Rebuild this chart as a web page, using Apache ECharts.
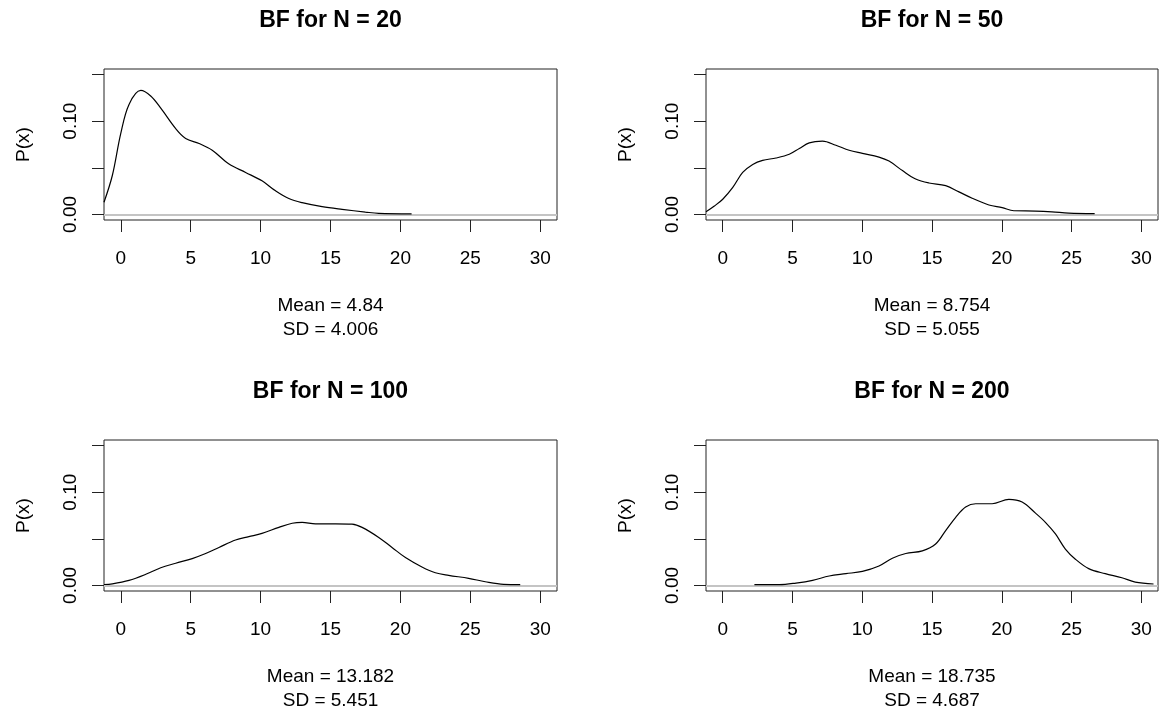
<!DOCTYPE html>
<html>
<head>
<meta charset="utf-8">
<title>BF for N</title>
<script src="https://cdn.jsdelivr.net/npm/echarts@6/dist/echarts.min.js"></script>
<style>
  html, body { margin: 0; padding: 0; background: #fff; }
  #chart { width: 1162px; height: 713px; }
</style>
</head>
<body>
<div id="chart"></div>
<script>
// panel labels + summary stats
const sampleSizes = [20, 50, 100, 200];
const means = ['4.84', '8.754', '13.182', '18.735'];
const sds = ['4.006', '5.055', '5.451', '4.687'];

// axis ticks
const xTicks = [0, 5, 10, 15, 20, 25, 30];
const yTicks = [0, 0.05, 0.1, 0.15];
const yTickLabels = [0, 0.1];

// density curves
const n20X = [-1.2, -0.6, 0, 0.59, 1.43, 2.14, 2.86, 3.93, 4.64, 5.6, 6.54, 7.74, 8.93, 10.1, 11.07, 12.02, 12.97, 14.4, 15.83, 17.5, 18.45, 20.8];
const n20Y = [0.013, 0.042, 0.087, 0.118, 0.133, 0.127, 0.114, 0.092, 0.0815, 0.076, 0.0688, 0.054, 0.045, 0.036, 0.0253, 0.017, 0.0126, 0.0083, 0.0054, 0.0025, 0.0011, 0.0006];

const n50X = [-1.2, -0.6, 0, 0.72, 1.43, 2.15, 2.86, 3.82, 4.77, 5.49, 6.2, 7.15, 8.11, 9.06, 10.01, 11.2, 11.92, 12.88, 13.83, 14.78, 15.98, 16.93, 17.88, 19.08, 20.03, 20.87, 22.42, 23.6, 24.8, 26.66];
const n50Y = [0.0028, 0.009, 0.0163, 0.029, 0.045, 0.0536, 0.058, 0.0605, 0.0645, 0.0707, 0.0768, 0.0786, 0.0742, 0.0688, 0.0655, 0.0615, 0.0572, 0.047, 0.038, 0.0337, 0.0308, 0.0242, 0.0174, 0.0101, 0.0072, 0.0039, 0.0036, 0.0028, 0.0014, 0.0008];

const n100X = [-1.2, -0.6, 0.59, 1.79, 2.86, 3.93, 5.11, 6.07, 7.02, 8.21, 9.16, 10.1, 11.31, 12.26, 12.97, 13.93, 15.36, 16.54, 17.26, 18.45, 19.4, 20.36, 21.54, 22.5, 23.45, 24.88, 26.07, 27.38, 28.57];
const n100Y = [0.001, 0.0017, 0.0054, 0.0119, 0.019, 0.0238, 0.0288, 0.0342, 0.0407, 0.0487, 0.0523, 0.0558, 0.0623, 0.0667, 0.0677, 0.066, 0.066, 0.0657, 0.0623, 0.0515, 0.0407, 0.0299, 0.0198, 0.0136, 0.0108, 0.0076, 0.0039, 0.0011, 0.0008];

const n200X = [2.27, 4.06, 5.25, 6.44, 7.63, 8.83, 10.01, 11.2, 12.16, 13.12, 14.31, 15.26, 15.98, 16.7, 17.41, 18.13, 19.31, 20.51, 21.46, 22.42, 23.13, 23.85, 24.56, 25.28, 26.23, 27.42, 28.61, 29.57, 30.88];
const n200Y = [0.0008, 0.0008, 0.0025, 0.0054, 0.0101, 0.0126, 0.0151, 0.0209, 0.0292, 0.0342, 0.0371, 0.0444, 0.0588, 0.0731, 0.084, 0.0876, 0.0876, 0.0923, 0.0894, 0.0775, 0.0677, 0.0552, 0.039, 0.0281, 0.018, 0.0126, 0.0082, 0.0036, 0.0015];

const curvesX = [n20X, n50X, n100X, n200X];
const curvesY = [n20Y, n50Y, n100Y, n200Y];

// plot boxes in px
const boxes = [
  { left: 104, top: 69, width: 453, height: 151 },
  { left: 706, top: 69, width: 452, height: 151 },
  { left: 104, top: 440, width: 453, height: 151 },
  { left: 706, top: 440, width: 452, height: 151 },
];

const FONT = '"Liberation Sans", Arial, sans-serif';
const INK = '#222';

const chart = echarts.init(document.getElementById('chart'));

const grid = [], xAxis = [], yAxis = [], series = [], graphic = [];

boxes.forEach((b, i) => {
  grid.push({
    left: b.left, top: b.top, width: b.width, height: b.height,
    show: true, borderColor: INK, borderWidth: 1, containLabel: false,
  });
  xAxis.push({
    gridIndex: i,
    type: 'value',
    min: -1.2,
    max: 31.2,
    axisLine: { show: false, onZero: false },
    axisTick: { show: true, inside: false, length: 12, customValues: xTicks, lineStyle: { color: INK } },
    axisLabel: { customValues: xTicks, margin: 29, fontSize: 19, color: '#000', fontFamily: FONT },
    splitLine: { show: false },
  });
  yAxis.push({
    gridIndex: i,
    type: 'value',
    min: -0.006,
    max: 0.156,
    name: 'P(x)',
    nameLocation: 'middle',
    nameGap: 71,
    nameRotate: 90,
    nameMoveOverlap: false,
    nameTextStyle: { fontSize: 19, color: '#000', fontFamily: FONT },
    axisLine: { show: false, onZero: false },
    axisTick: { show: true, inside: false, length: 12, customValues: yTicks, lineStyle: { color: INK } },
    axisLabel: {
      customValues: yTickLabels,
      rotate: 90,
      margin: 24,
      fontSize: 19,
      color: '#000',
      fontFamily: FONT,
      formatter: (v) => v.toFixed(2),
    },
    splitLine: { show: false },
  });

  const pts = curvesX[i].map((x, k) => [x, curvesY[i][k]]);
  series.push({
    type: 'line',
    xAxisIndex: i,
    yAxisIndex: i,
    data: pts,
    showSymbol: false,
    smooth: 0.35,
    clip: true,
    lineStyle: { color: '#000', width: 1.2 },
    markLine: {
      silent: true,
      symbol: 'none',
      label: { show: false },
      lineStyle: { color: '#c4c4c4', width: 2, type: 'solid' },
      data: [{ yAxis: 0 }],
      z: 1,
    },
    animation: false,
  });

  const cx = b.left + b.width / 2;
  graphic.push({
    type: 'text',
    x: cx,
    y: b.top - 48,
    style: {
      text: 'BF for N = ' + sampleSizes[i],
      align: 'center',
      verticalAlign: 'middle',
      font: 'bold 23px ' + FONT,
      fill: '#000',
    },
  });
  graphic.push({
    type: 'text',
    x: cx,
    y: b.top + 225,
    style: {
      text: 'Mean = ' + means[i] + '\nSD = ' + sds[i],
      align: 'center',
      verticalAlign: 'top',
      font: '19px ' + FONT,
      lineHeight: 24,
      fill: '#000',
    },
  });
});

chart.setOption({
  backgroundColor: '#fff',
  animation: false,
  grid,
  xAxis,
  yAxis,
  series,
  graphic,
});
</script>
</body>
</html>
